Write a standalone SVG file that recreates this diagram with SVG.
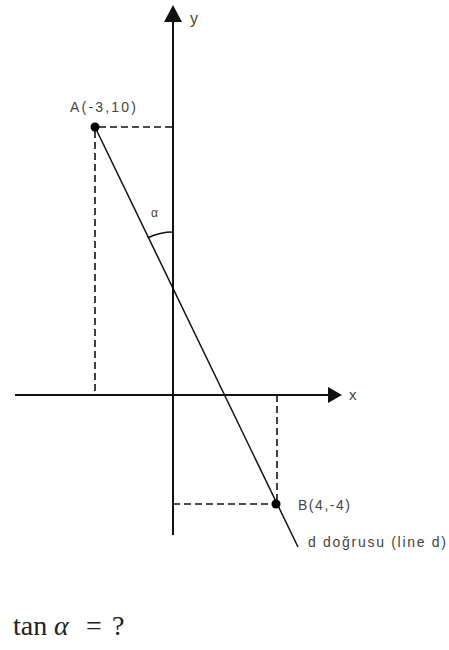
<svg xmlns="http://www.w3.org/2000/svg" width="449" height="650" viewBox="0 0 449 650">
<style>
.axis{stroke:#111;stroke-width:2;fill:none}
.dash{stroke:#111;stroke-width:1.6;stroke-dasharray:7 4;fill:none}
.line{stroke:#111;stroke-width:1.5;fill:none}
.lbl{font-family:"Liberation Sans",Arial,sans-serif;font-size:14px;fill:#444}
.math{font-family:"Liberation Serif","Times New Roman",serif;font-size:28px;fill:#222}
</style>
<rect width="449" height="650" fill="#fff"/>
<g id="connectors">
<line class="axis" x1="173" y1="20" x2="173" y2="535"/>
<polygon points="173,5 164,22 182,22" fill="#111"/>
<line class="axis" x1="15" y1="395" x2="330" y2="395"/>
<polygon points="342,395 328,387 328,403" fill="#111"/>
<line class="dash" x1="99" y1="127" x2="173" y2="127"/>
<line class="dash" x1="95" y1="131" x2="95" y2="395"/>
<line class="dash" x1="277" y1="395" x2="277" y2="500"/>
<line class="dash" x1="173" y1="504" x2="272" y2="504"/>
<line class="line" x1="95" y1="127" x2="298" y2="547"/>
<path class="line" d="M147.9,237.7 A58,58 0 0 1 173,232"/>
</g>
<g id="pointA">
<circle cx="95" cy="127" r="4.5" fill="#000"/>
<text class="lbl" x="70" y="112" textLength="66" lengthAdjust="spacing">A(-3,10)</text>
</g>
<g id="pointB">
<circle cx="276" cy="504" r="4.5" fill="#000"/>
<text class="lbl" x="298" y="510" textLength="52" lengthAdjust="spacing">B(4,-4)</text>
</g>
<g id="labels">
<text class="lbl" x="190" y="24" style="font-size:16px">y</text>
<text class="lbl" x="349" y="400" style="font-size:15px">x</text>
<text class="lbl" x="151" y="217" style="font-size:12px">α</text>
<text class="lbl" x="308" y="547" textLength="138" lengthAdjust="spacing">d doğrusu (line d)</text>
</g>
<g id="question">
<text class="math" x="13" y="635">tan</text>
<text class="math" x="54" y="635" style="font-style:italic">α</text>
<text class="math" x="86" y="635">=</text>
<text class="math" x="112" y="635">?</text>
</g>
</svg>
